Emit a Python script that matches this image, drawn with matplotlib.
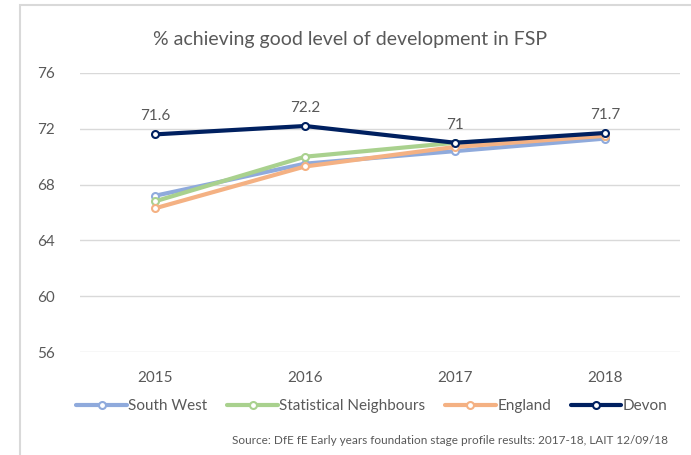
import matplotlib.pyplot as plt
from matplotlib.patches import Rectangle

years = ["2015", "2016", "2017", "2018"]
south_west = [67.2, 69.5, 70.4, 71.3]
stat_neighbours = [66.8, 70.0, 71.0, 71.5]
england = [66.3, 69.3, 70.7, 71.5]
devon = [71.6, 72.2, 71.0, 71.7]

series = [
    ("South West", south_west, "#8faadc"),
    ("Statistical Neighbours", stat_neighbours, "#a9d18e"),
    ("England", england, "#f4b183"),
    ("Devon", devon, "#002060"),
]

plt.rcParams["font.family"] = ["Lato", "DejaVu Sans"]
txt = "#595959"

fig = plt.figure(figsize=(6.91, 4.55), dpi=100, facecolor="w")
# chart frame (cut off at right and bottom like the screenshot)
fig.patches.append(Rectangle((20 / 691, -0.1), 1.0, 1 - 5 / 455 + 0.1,
                             transform=fig.transFigure, fill=False,
                             edgecolor="#d9d9d9", linewidth=1.5))

ax = fig.add_axes([80 / 691, 1 - 352 / 455, 600 / 691, (352 - 73) / 455])
x = range(len(years))
for name, vals, col in series:
    ax.plot(x, vals, color=col, linewidth=3, marker="o", markersize=5,
            markerfacecolor="white", markeredgecolor=col, markeredgewidth=1.5,
            label=name, solid_capstyle="round")

for i, v in enumerate(devon):
    ax.annotate(f"{v:g}", (i, v), xytext=(0, 8), textcoords="offset points",
                ha="center", va="bottom", fontsize=11, color=txt)

ax.set_xlim(-0.5, 3.5)
ax.set_ylim(56, 76)
ax.set_yticks(range(56, 77, 4))
ax.set_xticks(list(x))
ax.set_xticklabels(years)
ax.grid(axis="y", color="#d9d9d9", linewidth=1)
ax.set_axisbelow(True)
for s in ax.spines.values():
    s.set_visible(False)
ax.tick_params(length=0, labelsize=11, labelcolor=txt, pad=14)
ax.tick_params(axis="y", pad=18)

fig.text(350 / 691, 1 - 40 / 455, "% achieving good level of development in FSP",
         ha="center", va="center", fontsize=14, color=txt)
fig.legend(loc="center", bbox_to_anchor=(372 / 691, 1 - 406 / 455), ncol=4,
           frameon=False, fontsize=11, labelcolor=txt, handlelength=3.3,
           handletextpad=0.1, columnspacing=1.3)
fig.text(668 / 691, 1 - 440 / 455,
         "Source: DfE fE Early years foundation stage profile results: 2017-18, LAIT 12/09/18",
         ha="right", va="center", fontsize=8.5, color=txt)

fig.savefig("out.png", dpi=100)
